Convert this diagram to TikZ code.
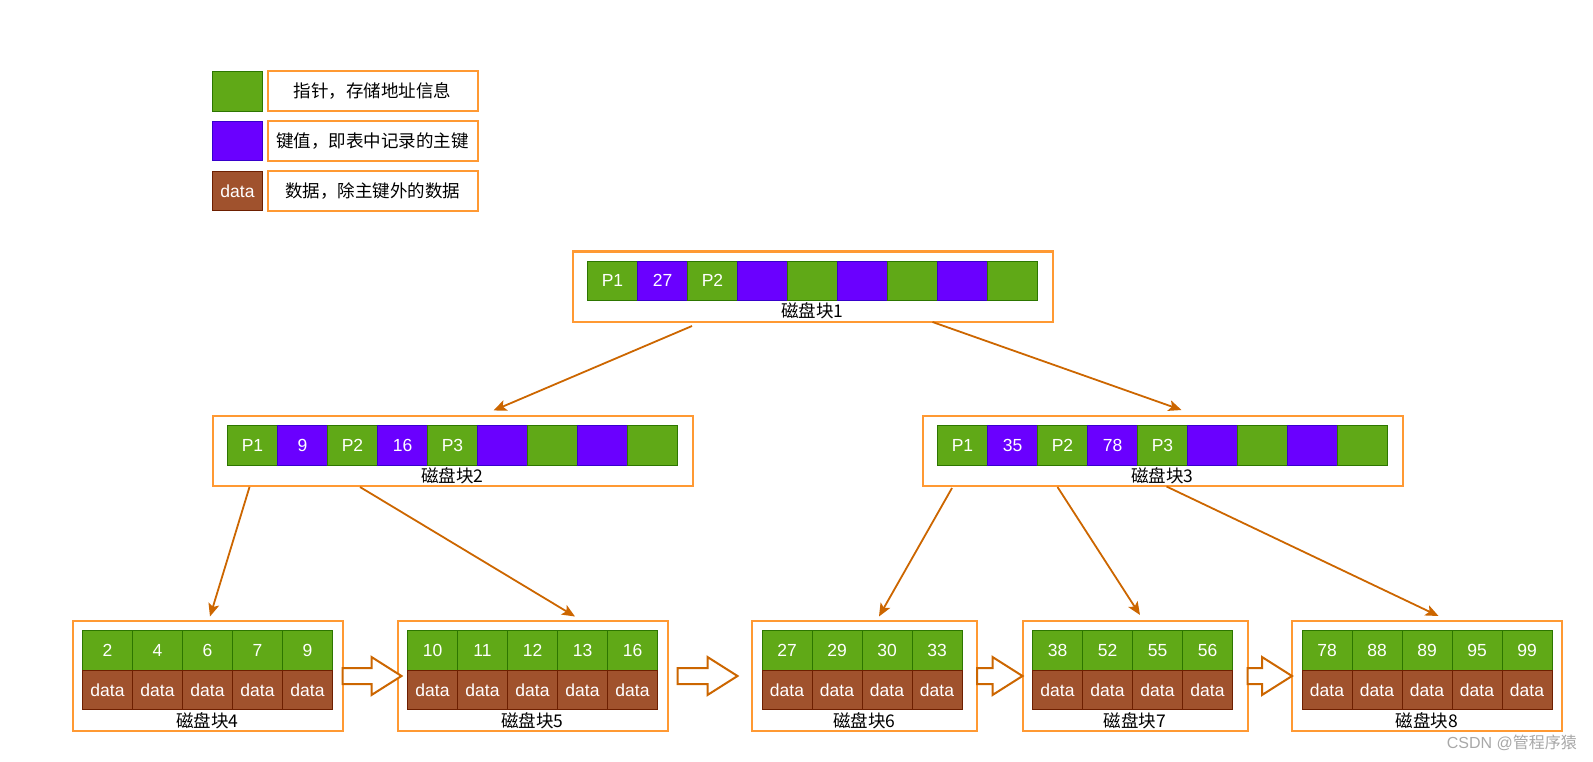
\documentclass[tikz,border=0pt]{standalone}
\usepackage{fontspec}
\setmainfont{Liberation Sans}
\newfontfamily\cjk{Noto Sans CJK SC}
\usetikzlibrary{positioning,calc,arrows.meta}

\definecolor{ptrgreen}{HTML}{60A917}
\definecolor{ptrline}{HTML}{2D7600}
\definecolor{keypurple}{HTML}{6A00FF}
\definecolor{keyline}{HTML}{3700CC}
\definecolor{databrown}{HTML}{A0522D}
\definecolor{dataline}{HTML}{6D1F00}
\definecolor{boxorange}{HTML}{FF9933}
\definecolor{linkorange}{HTML}{CC6600}
\definecolor{wmgray}{HTML}{A8A8A8}

\tikzset{
  cell/.style={minimum width=50pt, minimum height=39.5pt, inner sep=0pt, outer sep=0pt,
    line width=0.8pt, text=white, font=\fontsize{17.5}{20}\selectfont},
  ptrcell/.style={cell, fill=ptrgreen, draw=ptrline},
  keycell/.style={cell, fill=keypurple, draw=keyline},
  datacell/.style={cell, fill=databrown, draw=dataline},
  diskbox/.style={draw=boxorange, line width=2pt, fill=white, inner sep=0pt, outer sep=0pt},
  note/.style={diskbox, minimum width=210pt, minimum height=40pt, font=\cjk\fontsize{17.5}{20}\selectfont},
  lbl/.style={font=\cjk\fontsize{17.5}{20}\selectfont, inner sep=0pt},
  link/.style={draw=linkorange, line width=1.8pt, -{Stealth[length=13pt,width=11pt,inset=3pt]}},
  hollow/.style={draw=linkorange, line width=2pt, fill=white, line join=miter}
}

\begin{document}
\begin{tikzpicture}[x=1pt,y=-1pt]
\useasboundingbox (0,0) rectangle (1593,762);

% legend
\node[ptrcell] (lg1) at (237.5,91.5) {};
\node[note, right=5pt of lg1] (ln1) {指针，存储地址信息};
\node[keycell] (lg2) at (237.5,141) {};
\node[note, right=5pt of lg2] (ln2) {键值，即表中记录的主键};
\node[datacell] (lg3) at (237.5,191) {data};
\node[note, right=5pt of lg3] (ln3) {数据，除主键外的数据};

% disk blocks
\node[diskbox, minimum width=480pt, minimum height=70pt] (b1) at (812.5,286.5) {};
\node[diskbox, minimum width=480pt, minimum height=70pt] (b2) at (452.5,451) {};
\node[diskbox, minimum width=480pt, minimum height=70pt] (b3) at (1162.5,451) {};
\node[diskbox, minimum width=270pt, minimum height=110pt] (b4) at (207.5,676) {};
\node[diskbox, minimum width=270pt, minimum height=110pt] (b5) at (532.5,676) {};
\node[diskbox, minimum width=225pt, minimum height=110pt] (b6) at (864.5,676) {};
\node[diskbox, minimum width=225pt, minimum height=110pt] (b7) at (1135,676) {};
\node[diskbox, minimum width=270pt, minimum height=110pt] (b8) at (1427,676) {};

% index blocks
\foreach \lab/\sty [count=\i] in {P1/ptrcell,27/keycell,P2/ptrcell,/keycell,/ptrcell,/keycell,/ptrcell,/keycell,/ptrcell}
  \node[\sty] (n1-\i) at ($(b1.north west)+(50*\i-10,29.25)$) {\lab};
\foreach \lab/\sty [count=\i] in {P1/ptrcell,9/keycell,P2/ptrcell,16/keycell,P3/ptrcell,/keycell,/ptrcell,/keycell,/ptrcell}
  \node[\sty] (n2-\i) at ($(b2.north west)+(50*\i-10,29.25)$) {\lab};
\foreach \lab/\sty [count=\i] in {P1/ptrcell,35/keycell,P2/ptrcell,78/keycell,P3/ptrcell,/keycell,/ptrcell,/keycell,/ptrcell}
  \node[\sty] (n3-\i) at ($(b3.north west)+(50*\i-10,29.25)$) {\lab};

% leaf blocks
\foreach \blk/\keys in {4/{2,4,6,7,9},5/{10,11,12,13,16},6/{27,29,30,33},7/{38,52,55,56},8/{78,88,89,95,99}}{
  \foreach \k [count=\i] in \keys {
    \node[ptrcell] (k\blk-\i) at ($(b\blk.north west)+(50*\i-15,29.25)$) {\k};
    \node[datacell, below=0pt of k\blk-\i] (d\blk-\i) {data};
  }
}

% block names
\foreach \blk in {1,...,8}
  \node[lbl] (l\blk) at ($(b\blk.south)+(0,-10.5)$) {磁盘块\blk};

% pointers
\draw[link] ($(b1.south west)+(119.5,4.5)$) -- ($(b2.north west)+(281,-5.5)$);
\draw[link] ($(b1.south west)+(360,0.5)$) -- ($(b3.north west)+(259,-6)$);
\draw[link] ($(b2.south west)+(37,1)$) -- ($(b4.north west)+(137.5,-4.5)$);
\draw[link] ($(b2.south west)+(147.5,1)$) -- ($(b5.north west)+(177.5,-4.5)$);
\draw[link] ($(b3.south west)+(29.5,2)$) -- ($(b6.north west)+(127,-4.5)$);
\draw[link] ($(b3.south west)+(135,1)$) -- ($(b7.north west)+(117.5,-6)$);
\draw[link] ($(b3.south west)+(244,0.5)$) -- ($(b8.north west)+(146.5,-5)$);

% leaf chain
\foreach \pa/\pb/\sa/\tb in {b4/b5/0/4,b5/b6/10/-14.5,b6/b7/0/0,b7/b8/0/0}
  \draw[hollow] ($(\pa.east)+(\sa,-8)$) -- ($(\pb.west)+(\tb-30,-8)$) -- ($(\pb.west)+(\tb-30,-19)$)
    -- ($(\pb.west)+(\tb,0)$) -- ($(\pb.west)+(\tb-30,19)$) -- ($(\pb.west)+(\tb-30,8)$)
    -- ($(\pa.east)+(\sa,8)$) -- cycle;

\node[text=wmgray, font=\fontsize{16}{18}\selectfont, anchor=east, inner sep=0pt] (wm) at (1577,743) {CSDN @{\cjk 管程序猿}};
\end{tikzpicture}
\end{document}
